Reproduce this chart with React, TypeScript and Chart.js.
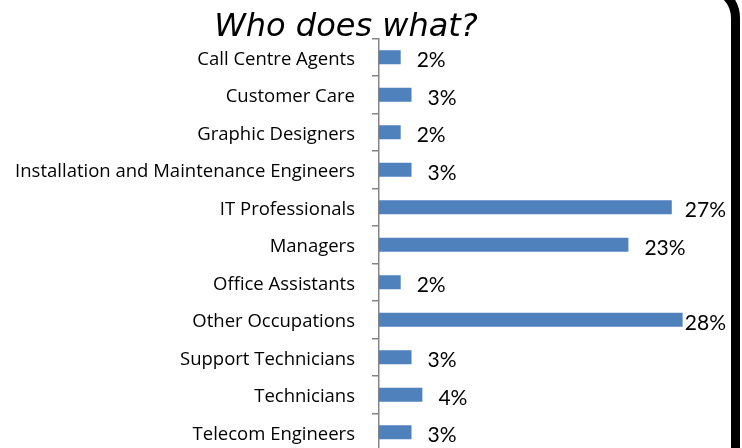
import React, { useEffect, useRef } from "react";
import { Chart, registerables } from "chart.js";

Chart.register(...registerables);

const categories = [
  "Call Centre Agents",
  "Customer Care",
  "Graphic Designers",
  "Installation and Maintenance Engineers",
  "IT Professionals",
  "Managers",
  "Office Assistants",
  "Other Occupations",
  "Support Technicians",
  "Technicians",
  "Telecom Engineers",
];
const shares = [2, 3, 2, 3, 27, 23, 2, 28, 3, 4, 3];
const titleText = "Who does what?";

const LABEL_FONT = "Lato, 'Open Sans', sans-serif";
const CAT_FONT = "'Open Sans', sans-serif";

const decorPlugin = {
  id: "decor",
  afterDatasetsDraw(chart: any) {
    const ctx = chart.ctx as CanvasRenderingContext2D;
    const area = chart.chartArea;
    const meta = chart.getDatasetMeta(0);
    const data = chart.data.datasets[0].data as number[];
    ctx.save();
    ctx.font = `21px ${LABEL_FONT}`;
    ctx.fillStyle = "#000";
    ctx.textAlign = "left";
    ctx.textBaseline = "alphabetic";
    meta.data.forEach((el: any, i: number) => {
      const txt = `${data[i]}%`;
      const w = ctx.measureText(txt).width;
      const x = Math.min(el.x + 16, area.right - w);
      ctx.fillText(txt, x, el.y + 10);
    });
    ctx.restore();
  },
  afterDraw(chart: any) {
    const ctx = chart.ctx as CanvasRenderingContext2D;
    ctx.save();
    ctx.font = "italic 32px 'DejaVu Sans', sans-serif";
    ctx.fillStyle = "#000";
    ctx.textAlign = "center";
    ctx.textBaseline = "alphabetic";
    ctx.fillText(titleText, 346, 36);
    ctx.beginPath();
    ctx.lineWidth = 9;
    ctx.strokeStyle = "#000";
    ctx.moveTo(600, -13);
    ctx.arcTo(735.5, -13, 735.5, 600, 31);
    ctx.lineTo(735.5, 600);
    ctx.stroke();
    ctx.restore();
  },
};

export default function App() {
  const ref = useRef<HTMLCanvasElement | null>(null);
  useEffect(() => {
    if (!ref.current) return;
    const chart = new Chart(ref.current, {
      type: "bar",
      data: {
        labels: categories,
        datasets: [
          {
            data: shares,
            backgroundColor: "#4F81BD",
            borderWidth: 0,
            barPercentage: 14 / 37.5,
            categoryPercentage: 1,
          },
        ],
      },
      options: {
        indexAxis: "y",
        animation: false,
        responsive: false,
        devicePixelRatio: 1,
        layout: { padding: { top: 38.5, bottom: 1, left: 0, right: 16 } },
        plugins: {
          legend: { display: false },
          title: { display: false },
          tooltip: { enabled: false },
        },
        scales: {
          x: { display: false, min: 0, max: 32 },
          y: {
            afterFit: (s: any) => {
              s.width = 379;
              s.paddingTop = 0;
              s.paddingBottom = 0;
            },
            grid: {
              drawOnChartArea: false,
              drawTicks: true,
              tickLength: 7,
              color: "#868686",
              lineWidth: 1.5,
              offset: true,
            },
            border: { display: true, color: "#868686", width: 1.5 },
            ticks: {
              color: "#000",
              padding: 17,
              labelOffset: 2,
              font: { family: CAT_FONT, size: 18.5 },
              autoSkip: false,
            },
          },
        },
      },
      plugins: [decorPlugin],
    });
    return () => chart.destroy();
  }, []);
  return (
    <div
      style={{
        position: "absolute",
        left: 0,
        top: 0,
        width: 742,
        height: 448,
        overflow: "hidden",
        background: "#fff",
      }}
    >
      <canvas ref={ref} width={742} height={452} style={{ display: "block" }} />
    </div>
  );
}
